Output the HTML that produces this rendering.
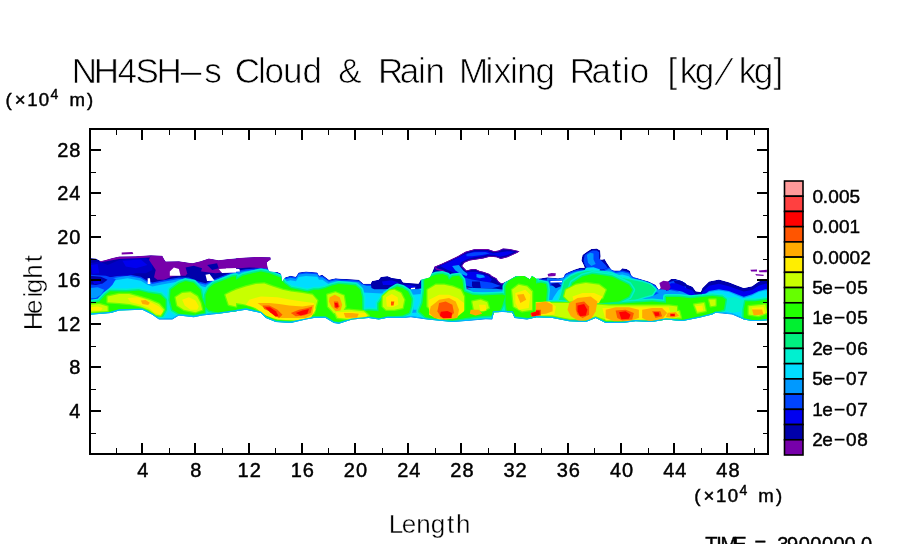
<!DOCTYPE html>
<html><head><meta charset="utf-8"><style>
html,body{margin:0;padding:0;background:#fff;width:904px;height:544px;overflow:hidden}
svg{display:block}
</style></head><body>
<svg width="904" height="544" viewBox="0 0 904 544" shape-rendering="crispEdges"><rect width="904" height="544" fill="#fff"/><defs><clipPath id="env"><polygon points="90.1,257.9 96.0,258.6 100.9,261.2 105.9,259.9 112.5,257.9 119.2,256.6 135.8,256.3 150.7,255.3 162.3,255.8 164.0,259.1 165.6,261.6 178.9,261.2 192.2,263.2 200.5,261.2 208.8,258.6 218.7,260.2 228.7,259.1 236.0,258.3 246.0,257.4 257.6,256.9 270.5,257.3 270.8,259.6 266.7,262.4 267.9,268.4 269.2,271.5 277.5,271.9 281.1,273.8 282.0,282.1 284.9,277.5 290.4,275.7 295.9,276.7 298.6,272.5 306.0,271.5 317.3,272.4 319.0,275.7 322.3,274.8 328.9,279.8 335.6,278.2 341.1,278.7 352.1,279.2 358.8,279.8 362.1,282.5 363.2,283.7 370.9,283.7 372.0,280.9 378.7,279.8 380.9,277.0 387.5,276.2 391.9,278.1 400.8,279.2 403.0,282.5 407.4,283.1 418.5,283.7 420.7,279.8 425.1,278.7 430.0,277.6 434.4,266.7 441.1,263.9 448.8,260.6 457.7,256.2 465.4,251.7 474.2,249.3 487.5,249.0 494.2,251.2 498.6,250.6 503.0,248.4 509.6,249.0 519.6,251.2 517.4,252.8 507.4,257.3 500.8,258.9 496.4,257.3 489.7,256.7 483.1,258.4 476.5,259.5 469.8,260.6 464.3,262.8 462.1,266.1 466.5,270.5 472.0,268.9 475.4,268.9 479.8,271.1 483.1,271.7 489.7,273.9 491.9,276.1 496.4,278.3 498.6,281.6 501.9,283.8 507.4,281.1 516.3,276.1 524.0,276.1 530.0,279.4 532.0,275.7 536.0,278.8 541.5,278.3 547.1,277.2 552.6,277.7 558.1,278.3 563.7,277.2 564.8,273.9 569.2,271.7 574.7,269.4 580.2,267.8 584.7,267.8 583.6,265.0 581.4,260.6 582.5,255.1 586.9,251.7 591.3,249.0 596.8,248.4 600.2,250.6 600.7,256.2 600.2,259.5 602.4,259.5 604.6,258.9 606.8,262.8 609.0,266.1 611.2,269.4 613.4,270.5 620.1,270.5 622.3,268.3 626.7,268.9 630.0,271.1 631.1,275.0 633.3,277.2 636.0,277.7 648.8,281.5 655.5,284.8 658.8,289.8 666.0,283.0 671.0,278.9 675.9,278.9 682.5,281.4 687.5,284.7 692.5,286.7 695.8,291.3 700.7,292.1 702.4,288.0 709.0,281.4 718.9,279.4 728.9,282.2 737.1,285.5 743.8,288.0 752.0,286.3 758.7,281.4 765.3,279.4 767.3,279.4 767.3,320.2 758.7,321.1 752.0,321.1 743.8,319.4 732.2,314.5 715.6,312.8 712.3,314.5 699.1,317.8 682.5,321.1 666.0,319.4 652.1,322.1 635.6,321.3 622.3,323.0 605.7,323.0 595.7,318.0 585.8,322.1 569.2,321.3 552.6,318.0 536.0,317.2 527.0,319.6 514.6,318.0 512.1,312.3 502.1,312.0 493.8,312.3 492.2,319.6 485.6,319.3 472.3,320.5 452.4,322.1 427.5,319.6 410.9,317.2 402.6,318.0 386.0,318.0 378.7,319.6 368.7,318.0 352.1,319.6 338.9,323.8 333.9,323.0 325.6,318.0 314.0,318.0 305.7,319.6 290.8,323.0 275.8,322.1 265.9,318.0 260.9,313.0 246.0,309.7 236.0,311.3 218.7,313.8 202.1,315.5 193.8,317.2 178.9,315.5 172.3,319.6 159.0,319.6 152.4,314.7 142.4,309.7 119.2,310.5 110.9,313.0 90.1,314.7"/></clipPath></defs><g shape-rendering="auto" stroke-linejoin="round"><g clip-path="url(#env)"><polygon points="90.1,257.9 96.0,258.6 100.9,261.2 105.9,259.9 112.5,257.9 119.2,256.6 135.8,256.3 150.7,255.3 162.3,255.8 164.0,259.1 165.6,261.6 178.9,261.2 192.2,263.2 200.5,261.2 208.8,258.6 218.7,260.2 228.7,259.1 236.0,258.3 246.0,257.4 257.6,256.9 270.5,257.3 270.8,259.6 266.7,262.4 267.9,268.4 269.2,271.5 277.5,271.9 281.1,273.8 282.0,282.1 284.9,277.5 290.4,275.7 295.9,276.7 298.6,272.5 306.0,271.5 317.3,272.4 319.0,275.7 322.3,274.8 328.9,279.8 335.6,278.2 341.1,278.7 352.1,279.2 358.8,279.8 362.1,282.5 363.2,283.7 370.9,283.7 372.0,280.9 378.7,279.8 380.9,277.0 387.5,276.2 391.9,278.1 400.8,279.2 403.0,282.5 407.4,283.1 418.5,283.7 420.7,279.8 425.1,278.7 430.0,277.6 434.4,266.7 441.1,263.9 448.8,260.6 457.7,256.2 465.4,251.7 474.2,249.3 487.5,249.0 494.2,251.2 498.6,250.6 503.0,248.4 509.6,249.0 519.6,251.2 517.4,252.8 507.4,257.3 500.8,258.9 496.4,257.3 489.7,256.7 483.1,258.4 476.5,259.5 469.8,260.6 464.3,262.8 462.1,266.1 466.5,270.5 472.0,268.9 475.4,268.9 479.8,271.1 483.1,271.7 489.7,273.9 491.9,276.1 496.4,278.3 498.6,281.6 501.9,283.8 507.4,281.1 516.3,276.1 524.0,276.1 530.0,279.4 532.0,275.7 536.0,278.8 541.5,278.3 547.1,277.2 552.6,277.7 558.1,278.3 563.7,277.2 564.8,273.9 569.2,271.7 574.7,269.4 580.2,267.8 584.7,267.8 583.6,265.0 581.4,260.6 582.5,255.1 586.9,251.7 591.3,249.0 596.8,248.4 600.2,250.6 600.7,256.2 600.2,259.5 602.4,259.5 604.6,258.9 606.8,262.8 609.0,266.1 611.2,269.4 613.4,270.5 620.1,270.5 622.3,268.3 626.7,268.9 630.0,271.1 631.1,275.0 633.3,277.2 636.0,277.7 648.8,281.5 655.5,284.8 658.8,289.8 666.0,283.0 671.0,278.9 675.9,278.9 682.5,281.4 687.5,284.7 692.5,286.7 695.8,291.3 700.7,292.1 702.4,288.0 709.0,281.4 718.9,279.4 728.9,282.2 737.1,285.5 743.8,288.0 752.0,286.3 758.7,281.4 765.3,279.4 767.3,279.4 767.3,320.2 758.7,321.1 752.0,321.1 743.8,319.4 732.2,314.5 715.6,312.8 712.3,314.5 699.1,317.8 682.5,321.1 666.0,319.4 652.1,322.1 635.6,321.3 622.3,323.0 605.7,323.0 595.7,318.0 585.8,322.1 569.2,321.3 552.6,318.0 536.0,317.2 527.0,319.6 514.6,318.0 512.1,312.3 502.1,312.0 493.8,312.3 492.2,319.6 485.6,319.3 472.3,320.5 452.4,322.1 427.5,319.6 410.9,317.2 402.6,318.0 386.0,318.0 378.7,319.6 368.7,318.0 352.1,319.6 338.9,323.8 333.9,323.0 325.6,318.0 314.0,318.0 305.7,319.6 290.8,323.0 275.8,322.1 265.9,318.0 260.9,313.0 246.0,309.7 236.0,311.3 218.7,313.8 202.1,315.5 193.8,317.2 178.9,315.5 172.3,319.6 159.0,319.6 152.4,314.7 142.4,309.7 119.2,310.5 110.9,313.0 90.1,314.7" fill="#0000aa" /><polygon points="90.1,277.5 102.6,278.3 112.5,276.7 127.5,274.2 140.8,276.7 147.4,280.8 152.4,282.5 160.7,280.8 169.0,279.2 178.9,277.5 188.9,277.5 198.8,281.6 205.5,283.3 212.1,280.0 218.7,277.5 227.0,274.2 236.0,270.9 246.0,269.2 255.9,268.4 265.9,267.5 268.4,269.2 270.8,271.7 277.5,272.5 281.1,274.2 282.5,282.0 284.9,278.0 290.4,276.3 295.9,277.2 298.6,273.0 306.0,272.0 317.3,272.8 319.0,275.8 322.3,275.8 328.9,280.3 335.6,278.7 341.1,279.4 352.1,279.9 358.8,280.5 362.1,283.3 363.2,284.4 370.9,284.4 372.0,286.6 380.9,287.7 391.9,287.1 400.8,287.7 407.4,287.7 418.5,287.7 420.7,283.3 425.1,279.9 430.0,278.8 434.1,274.2 440.8,273.3 447.4,274.7 449.0,278.3 452.4,276.3 459.0,275.8 464.0,280.0 465.6,286.6 472.3,288.3 485.6,288.3 498.8,286.6 502.1,282.0 510.4,281.3 515.4,277.5 522.1,276.3 536.0,279.6 546.0,279.6 552.6,279.6 562.5,278.8 565.9,273.8 574.2,270.5 580.8,269.2 585.8,270.0 600.7,270.9 609.0,267.5 615.6,271.4 622.3,270.5 628.9,272.2 632.2,276.3 638.9,278.8 648.8,282.1 655.5,285.5 658.8,290.3 666.0,288.1 671.0,286.5 675.9,287.3 682.5,289.0 687.5,291.4 692.5,293.1 695.8,295.6 700.7,296.4 702.4,293.1 709.0,288.1 718.9,286.5 728.9,288.1 737.1,291.4 743.8,293.9 752.0,291.4 758.7,288.1 765.3,286.5 767.3,286.5 767.3,319.7 758.7,320.6 752.0,320.6 743.8,318.9 732.2,314.0 715.6,312.3 712.3,314.0 699.1,317.3 682.5,320.6 666.0,318.9 652.1,321.6 635.6,320.8 622.3,322.5 605.7,322.5 595.7,317.5 585.8,321.6 569.2,320.8 552.6,317.5 536.0,316.7 527.0,319.1 514.6,317.5 512.1,311.8 502.1,311.5 493.8,311.8 492.2,319.1 485.6,318.8 472.3,320.0 452.4,321.6 427.5,319.1 410.9,316.7 402.6,317.5 386.0,317.5 378.7,319.1 368.7,317.5 352.1,319.1 338.9,323.3 333.9,322.5 325.6,317.5 314.0,317.5 305.7,319.1 290.8,322.5 275.8,321.6 265.9,317.5 260.9,312.5 246.0,309.2 236.0,310.8 218.7,313.3 202.1,315.0 193.8,316.7 178.9,315.0 172.3,319.1 159.0,319.1 152.4,314.2 142.4,309.2 119.2,310.0 110.9,312.5 90.1,314.2" fill="#0044ff" /><polygon points="90.1,279.0 102.6,279.8 112.5,278.2 127.5,275.7 140.8,278.2 147.4,282.3 152.4,284.0 160.7,282.3 169.0,280.7 178.9,279.0 188.9,279.0 198.8,283.1 205.5,284.8 212.1,281.5 218.7,279.0 227.0,275.7 236.0,272.4 246.0,270.7 255.9,269.9 265.9,269.0 268.4,270.7 270.8,273.2 277.5,274.0 281.1,275.7 282.5,283.5 284.9,279.5 290.4,277.8 295.9,278.7 298.6,274.5 306.0,273.5 317.3,274.3 319.0,277.3 322.3,277.3 328.9,281.8 335.6,280.2 341.1,280.9 352.1,281.4 358.8,282.0 362.1,284.8 363.2,285.9 370.9,285.9 372.0,288.1 380.9,289.2 391.9,288.6 400.8,289.2 407.4,289.2 418.5,289.2 420.7,284.8 425.1,281.4 430.0,280.3 434.1,275.7 440.8,274.8 447.4,276.2 449.0,279.8 452.4,277.8 459.0,277.3 464.0,281.5 465.6,288.1 472.3,289.8 485.6,289.8 498.8,288.1 502.1,283.5 510.4,282.8 515.4,279.0 522.1,277.8 536.0,281.1 546.0,281.1 552.6,281.1 562.5,280.3 565.9,275.3 574.2,272.0 580.8,270.7 585.8,271.5 600.7,272.4 609.0,269.0 615.6,272.9 622.3,272.0 628.9,273.7 632.2,277.8 638.9,280.3 648.8,283.6 655.5,287.0 658.8,291.8 666.0,289.6 671.0,288.0 675.9,288.8 682.5,290.5 687.5,292.9 692.5,294.6 695.8,297.1 700.7,297.9 702.4,294.6 709.0,289.6 718.9,288.0 728.9,289.6 737.1,292.9 743.8,295.4 752.0,292.9 758.7,289.6 765.3,288.0 767.3,288.0 767.3,319.4 758.7,320.3 752.0,320.3 743.8,318.6 732.2,313.7 715.6,312.0 712.3,313.7 699.1,317.0 682.5,320.3 666.0,318.6 652.1,321.3 635.6,320.5 622.3,322.2 605.7,322.2 595.7,317.2 585.8,321.3 569.2,320.5 552.6,317.2 536.0,316.4 527.0,318.8 514.6,317.2 512.1,311.5 502.1,311.2 493.8,311.5 492.2,318.8 485.6,318.5 472.3,319.7 452.4,321.3 427.5,318.8 410.9,316.4 402.6,317.2 386.0,317.2 378.7,318.8 368.7,317.2 352.1,318.8 338.9,323.0 333.9,322.2 325.6,317.2 314.0,317.2 305.7,318.8 290.8,322.2 275.8,321.3 265.9,317.2 260.9,312.2 246.0,308.9 236.0,310.5 218.7,313.0 202.1,314.7 193.8,316.4 178.9,314.7 172.3,318.8 159.0,318.8 152.4,313.9 142.4,308.9 119.2,309.7 110.9,312.2 90.1,313.9" fill="#0099ff" /><polygon points="90.1,281.5 102.6,282.3 112.5,280.7 127.5,278.2 140.8,280.7 147.4,284.8 152.4,286.5 160.7,284.8 169.0,283.2 178.9,281.5 188.9,281.5 198.8,285.6 205.5,287.3 212.1,284.0 218.7,281.5 227.0,278.2 236.0,274.9 246.0,273.2 255.9,272.4 265.9,271.5 268.4,273.2 270.8,275.7 277.5,276.5 281.1,278.2 282.5,286.0 284.9,282.0 290.4,280.3 295.9,281.2 298.6,277.0 306.0,276.0 317.3,276.8 319.0,279.8 322.3,279.8 328.9,284.3 335.6,282.7 341.1,283.4 352.1,283.9 358.8,284.5 362.1,287.3 363.2,288.4 370.9,288.4 372.0,290.6 380.9,291.7 391.9,291.1 400.8,291.7 407.4,291.7 418.5,291.7 420.7,287.3 425.1,283.9 430.0,282.8 434.1,278.2 440.8,277.3 447.4,278.7 449.0,282.3 452.4,280.3 459.0,279.8 464.0,284.0 465.6,290.6 472.3,292.3 485.6,292.3 498.8,290.6 502.1,286.0 510.4,285.3 515.4,281.5 522.1,280.3 536.0,283.6 546.0,283.6 552.6,283.6 562.5,282.8 565.9,277.8 574.2,274.5 580.8,273.2 585.8,274.0 600.7,274.9 609.0,271.5 615.6,275.4 622.3,274.5 628.9,276.2 632.2,280.3 638.9,282.8 648.8,286.1 655.5,289.5 658.8,294.3 666.0,292.1 671.0,290.5 675.9,291.3 682.5,293.0 687.5,295.4 692.5,297.1 695.8,299.6 700.7,300.4 702.4,297.1 709.0,292.1 718.9,290.5 728.9,292.1 737.1,295.4 743.8,297.9 752.0,295.4 758.7,292.1 765.3,290.5 767.3,290.5 767.3,319.0 758.7,319.9 752.0,319.9 743.8,318.2 732.2,313.3 715.6,311.6 712.3,313.3 699.1,316.6 682.5,319.9 666.0,318.2 652.1,320.9 635.6,320.1 622.3,321.8 605.7,321.8 595.7,316.8 585.8,320.9 569.2,320.1 552.6,316.8 536.0,316.0 527.0,318.4 514.6,316.8 512.1,311.1 502.1,310.8 493.8,311.1 492.2,318.4 485.6,318.1 472.3,319.3 452.4,320.9 427.5,318.4 410.9,316.0 402.6,316.8 386.0,316.8 378.7,318.4 368.7,316.8 352.1,318.4 338.9,322.6 333.9,321.8 325.6,316.8 314.0,316.8 305.7,318.4 290.8,321.8 275.8,320.9 265.9,316.8 260.9,311.8 246.0,308.5 236.0,310.1 218.7,312.6 202.1,314.3 193.8,316.0 178.9,314.3 172.3,318.4 159.0,318.4 152.4,313.5 142.4,308.5 119.2,309.3 110.9,311.8 90.1,313.5" fill="#00ddff" /><polygon points="90.1,263.2 99.3,261.6 107.6,264.9 119.2,259.9 132.5,258.3 145.7,258.3 152.4,261.6 152.4,269.9 145.7,273.2 135.8,273.2 127.5,275.7 115.9,275.7 105.9,277.3 96.0,278.2 90.1,276.5" fill="#0000c8" /><polygon points="91.0,264.9 97.6,264.1 99.3,273.2 92.6,274.0" fill="#0000f0" /><polygon points="122.5,260.7 140.8,259.6 147.4,264.9 135.8,268.2 125.8,266.5" fill="#0000f0" /><polygon points="89.3,274.8 105.9,275.7 115.9,279.0 112.5,284.8 107.6,289.8 102.6,294.8 99.3,300.6 89.3,302.2" fill="#0044ff" /><polygon points="89.3,275.7 100.9,276.8 107.6,279.8 102.6,283.5 96.0,285.1 89.3,284.5" fill="#0000aa" /><polygon points="89.3,288.1 97.6,287.3 104.3,289.8 100.9,294.8 96.0,298.1 89.3,298.4" fill="#0099ff" /><polygon points="92.6,281.5 99.3,281.1 100.9,283.5 94.3,284.1" fill="#0000f0" /><polygon points="150.7,255.3 162.3,255.8 164.0,259.1 165.6,261.6 178.9,261.2 192.2,263.2 200.5,261.2 208.8,258.6 218.7,260.2 228.7,259.1 236.0,259.1 236.0,271.5 230.4,272.4 222.1,272.4 215.4,273.2 208.8,272.4 202.1,271.5 195.5,269.9 188.9,271.5 185.6,275.7 178.9,275.7 172.3,276.5 164.0,279.8 157.3,279.8 154.0,277.3 155.7,269.9 152.4,264.9 149.0,259.9" fill="#7700aa" /><polygon points="99.3,260.7 119.2,256.6 135.8,256.3 150.7,255.3 149.9,257.6 135.8,258.3 119.2,258.9 100.9,262.2" fill="#7700aa" /><polygon points="185.6,267.4 193.8,265.7 202.1,268.2 200.5,272.4 192.2,272.4 187.2,273.2" fill="#0000aa" /><polygon points="207.1,264.9 217.1,263.2 218.7,268.2 212.1,269.9" fill="#0000aa" /><polygon points="236.0,257.9 246.0,257.4 257.6,256.9 270.5,257.3 270.8,259.6 266.7,262.4 267.9,268.4 259.2,267.9 249.3,267.4 242.6,267.9 236.0,268.5" fill="#7700aa" /><polygon points="362.1,284.2 372.0,288.1 383.1,289.2 384.2,298.0 383.1,311.0 362.1,311.0 361.0,289.2" fill="#0099ff" /><polygon points="363.2,292.5 382.0,293.6 382.5,311.0 363.2,311.0" fill="#00ddff" /><polygon points="370.9,282.5 378.7,279.8 380.9,277.0 387.5,276.2 391.9,278.1 400.8,279.2 403.0,282.5 407.4,283.1 418.5,283.7 421.8,283.1 421.8,288.6 407.4,289.2 396.4,288.1 385.3,289.2 374.2,289.2 371.5,288.1" fill="#0000aa" /><polygon points="382.0,281.4 391.9,280.3 398.6,282.5 391.9,285.0 383.1,285.0" fill="#0000f0" /><polygon points="400.8,285.6 409.6,285.0 417.4,286.8 407.4,288.3" fill="#0000f0" /><polygon points="410.8,287.9 415.2,287.6 415.0,289.0 411.0,289.2" fill="#fff" /><polygon points="434.4,266.7 441.1,263.9 448.8,260.6 457.7,256.2 465.4,251.7 474.2,249.3 487.5,249.0 494.2,251.2 498.6,250.6 503.0,248.4 509.6,249.0 519.6,251.2 517.4,252.8 507.4,257.3 500.8,258.9 496.4,257.3 489.7,256.7 483.1,258.4 476.5,259.5 469.8,260.6 464.3,262.8 462.1,266.1 466.5,270.5 472.0,268.9 475.4,268.9 479.8,271.1 483.1,271.7 489.7,273.9 491.9,276.1 496.4,278.3 498.6,281.6 501.9,283.8 507.4,281.1 516.3,276.1 524.0,276.1 530.0,279.4 530.0,288.2 496.4,290.5 463.2,288.2 452.1,280.5 448.8,275.0 443.3,271.1 436.6,268.9" fill="#0000aa" stroke="#7700aa" stroke-width="1.6"/><polygon points="440.0,266.1 448.8,262.3 457.7,257.8 465.4,254.0 474.2,251.5 487.5,251.2 493.1,253.4 500.8,252.3 507.4,251.2 514.1,251.7 507.4,255.1 499.7,256.7 494.2,255.1 487.5,254.5 482.0,256.2 474.2,257.3 467.6,258.9 461.0,262.3 458.8,267.2 463.2,272.8 469.8,271.7 476.5,271.7 482.0,273.9 488.6,276.1 491.9,279.4 489.7,282.7 480.9,280.5 472.0,279.4 463.2,277.2 454.3,272.8 446.6,269.4" fill="#0000f0" /><polygon points="466.5,254.0 474.2,252.3 485.3,252.0 489.7,253.4 482.0,255.1 472.0,256.2 466.5,256.2" fill="#0044ff" /><polygon points="452.1,266.1 458.8,265.0 463.2,270.5 467.6,273.9 466.5,276.1 461.0,273.9 455.4,270.5" fill="#0099ff" /><polygon points="476.5,273.9 483.1,275.0 485.3,277.2 479.8,278.3 476.5,277.2" fill="#0099ff" /><polygon points="463.2,277.2 472.0,279.4 480.9,281.1 491.9,282.7 500.8,286.0 491.9,288.2 476.5,288.2 466.5,286.0" fill="#0044ff" /><polygon points="472.0,281.6 479.8,281.6 480.9,288.2 474.2,289.4 472.0,286.0" fill="#0000aa" /><polygon points="466.5,287.7 496.4,288.8 507.4,290.5 498.6,292.7 474.2,291.6" fill="#0099ff" /><polygon points="447.7,273.9 452.1,276.1 452.7,280.5 449.4,280.5" fill="#fff" /><polygon points="409.2,290.6 419.2,289.8 424.2,290.6 422.5,303.0 420.0,312.2 410.9,313.0 412.5,299.7" fill="#0099ff" /><polygon points="412.5,294.8 420.8,293.9 421.7,303.0 419.2,309.7 413.4,309.7" fill="#00ddff" /><polygon points="583.6,260.6 584.7,255.1 588.0,252.8 592.4,250.6 596.8,250.4 599.1,252.3 599.1,258.4 602.4,261.7 605.7,265.0 607.9,268.3 602.4,269.4 593.5,269.4 586.9,267.8 584.7,265.0" fill="#0044ff" /><polygon points="586.9,255.1 590.2,252.8 593.5,253.4 593.5,259.5 595.7,263.9 591.3,266.1 588.0,262.8" fill="#0099ff" /><polygon points="585.8,267.8 593.5,267.2 600.2,269.4 597.9,272.8 589.1,272.8 584.7,270.5" fill="#00ddff" /><polygon points="547.1,278.3 558.1,278.8 563.7,277.7 564.8,281.6 563.7,286.0 558.1,290.5 553.7,297.1 550.4,303.7 547.1,303.7 547.1,297.1 548.2,288.2" fill="#0099ff" /><polygon points="548.2,279.4 558.1,279.4 562.5,280.5 561.4,283.8 555.9,286.0 550.4,286.0" fill="#0044ff" /><polygon points="550.4,283.8 558.1,282.7 561.4,286.0 555.9,288.2" fill="#0000aa" /><polygon points="536.0,279.4 541.5,280.0 541.0,283.8 536.0,283.8" fill="#fff" /><polygon points="550.4,281.1 562.0,280.7 562.0,282.2 550.4,282.5" fill="#fff" /><polygon points="628.9,289.8 638.9,288.1 650.5,288.1 658.8,289.8 668.7,288.1 677.0,283.1 686.0,281.5 686.0,303.0 668.7,303.0 652.1,301.4 635.6,302.2 628.9,299.7" fill="#0099ff" /><polygon points="635.6,290.6 648.8,289.8 658.8,293.1 652.1,296.4 642.2,294.8" fill="#0044ff" /><polygon points="668.7,282.3 677.0,279.8 686.0,279.0 686.0,289.8 677.0,291.4 668.7,289.8" fill="#0044ff" /><polygon points="673.7,280.7 686.0,279.5 686.0,286.5 677.0,287.3" fill="#0000aa" /><polygon points="660.4,282.3 667.1,281.5 668.7,287.3 662.1,288.1" fill="#7700aa" /><polygon points="666.0,287.2 671.0,283.3 675.9,283.3 682.5,285.7 687.5,288.8 692.5,290.6 695.8,294.9 700.7,295.8 702.4,292.0 709.0,285.7 718.9,283.7 728.9,286.3 737.1,289.3 743.8,291.6 752.0,290.0 758.7,285.7 765.3,283.7 768.6,283.7 768.6,289.6 765.3,289.3 758.7,291.0 752.0,294.3 743.8,296.8 737.1,294.3 728.9,291.0 718.9,289.3 709.0,291.0 702.4,295.9 700.7,299.2 695.8,298.4 692.5,295.9 687.5,294.3 682.5,291.8 675.9,290.1 671.0,289.3 666.0,291.0" fill="#0000f0" /><polygon points="723.9,297.9 735.5,297.1 745.4,301.2 743.8,311.1 732.2,312.8 723.9,309.5" fill="#00f0d0" /><polygon points="169.8,271.5 173.9,267.4 178.9,269.0 180.6,275.7 169.8,275.7" fill="#fff" /><polygon points="147.7,278.2 150.0,278.2 150.4,284.0 147.7,284.0" fill="#fff" /><polygon points="205.5,274.8 209.6,274.0 214.6,280.7 207.1,281.1" fill="#fff" /><polygon points="218.7,269.0 236.0,267.9 236.0,272.4 222.1,272.9" fill="#fff" /><polygon points="226.0,268.5 239.3,268.9 240.0,271.5 226.0,272.2" fill="#fff" /><polygon points="564.2,281.5 570.8,276.2 577.5,273.2 585.8,271.2 592.4,270.7 600.7,271.9 610.7,273.2 622.3,278.0 631.9,280.0 642.2,282.0 650.5,284.8 655.5,289.8 652.1,294.8 645.5,296.4 635.6,299.7 628.9,303.0 622.3,306.4 609.0,309.7 585.8,313.0 569.2,309.7 557.6,303.0 560.9,294.8" fill="#00f0d0" stroke="#00f0d0" stroke-width="3"/><polygon points="564.2,281.5 570.8,276.2 577.5,273.2 585.8,271.2 592.4,270.7 600.7,271.9 610.7,273.2 622.3,278.0 631.9,280.0 642.2,282.0 650.5,284.8 655.5,289.8 652.1,294.8 645.5,296.4 635.6,299.7 628.9,303.0 622.3,306.4 609.0,309.7 585.8,313.0 569.2,309.7 557.6,303.0 560.9,294.8" fill="#00f080" /><polygon points="90.1,302.7 99.3,301.4 105.7,294.6 110.1,291.3 126.5,291.4 139.1,290.6 149.0,293.1 160.7,294.8 165.6,299.7 165.6,309.7 162.3,315.5 155.7,315.5 149.0,310.5 142.4,308.4 119.2,309.4 110.9,311.7 90.1,313.0" fill="#00f0d0" stroke="#00f0d0" stroke-width="6"/><polygon points="170.6,289.8 178.9,283.5 185.6,281.1 193.8,282.8 200.5,289.8 202.1,298.1 205.5,306.4 204.6,313.0 193.8,314.7 178.9,313.8 172.3,309.7 169.8,299.7" fill="#00f0d0" stroke="#00f0d0" stroke-width="6"/><polygon points="205.5,294.8 208.8,288.1 213.8,284.0 222.1,280.7 232.0,276.8 236.0,276.2 236.0,311.7 218.7,312.7 208.8,310.5 205.5,306.4" fill="#00f0d0" stroke="#00f0d0" stroke-width="6"/><polygon points="236.0,279.8 242.6,275.7 252.6,273.2 260.9,271.5 269.2,273.2 275.8,275.7 280.8,277.8 284.1,283.1 290.8,288.1 299.0,289.8 307.3,291.4 314.0,289.8 319.0,289.8 325.6,288.1 332.2,285.6 338.9,284.0 348.8,284.8 355.5,285.6 360.4,289.8 362.1,297.2 362.4,311.3 368.7,310.5 378.7,311.3 387.0,311.3 387.0,318.0 378.7,318.0 368.7,316.3 352.1,318.0 338.9,322.1 333.9,321.3 325.6,316.3 314.0,316.3 305.7,318.0 290.8,321.3 275.8,320.5 265.9,316.3 260.9,311.3 246.0,308.0 236.0,309.7" fill="#00f0d0" stroke="#00f0d0" stroke-width="6"/><polygon points="378.5,303.5 384.0,295.9 391.5,289.8 397.0,286.5 402.6,288.0 408.1,291.6 411.7,298.9 410.9,306.2 409.1,312.7 402.6,315.5 392.6,316.3 378.5,316.3" fill="#00f0d0" stroke="#00f0d0" stroke-width="6"/><polygon points="424.2,279.8 429.1,277.3 435.8,274.8 442.4,274.0 447.4,275.7 449.0,279.8 452.4,276.5 459.0,275.7 462.3,279.8 464.0,291.4 472.3,294.8 482.2,295.6 492.2,295.1 502.1,294.4 505.5,295.6 502.1,306.4 498.8,313.0 492.2,315.5 478.9,316.3 465.6,318.0 452.4,320.5 435.8,318.8 425.8,317.2 419.2,311.3 422.5,303.0 424.2,289.8" fill="#00f0d0" stroke="#00f0d0" stroke-width="6"/><polygon points="505.5,286.5 508.8,280.7 515.4,277.3 522.1,275.7 530.4,276.5 536.0,277.3 536.0,319.6 528.7,318.0 515.4,316.3 507.1,313.0 505.5,303.0" fill="#00f0d0" stroke="#00f0d0" stroke-width="6"/><polygon points="536.0,283.5 541.0,282.8 546.0,284.0 547.0,289.8 546.0,301.4 542.6,306.4 536.0,306.4" fill="#00f0d0" stroke="#00f0d0" stroke-width="6"/><polygon points="572.5,283.1 582.5,276.5 592.4,274.0 602.4,275.2 612.3,276.8 622.3,281.5 628.9,284.8 632.2,289.8 628.9,296.4 619.0,301.4 602.4,303.0 585.8,303.0 572.5,299.7 569.2,293.1" fill="#00f0d0" stroke="#00f0d0" stroke-width="6"/><polygon points="536.0,303.0 560.9,303.0 585.8,306.4 610.7,304.7 628.9,303.0 652.1,301.4 668.7,303.0 686.0,303.0 686.0,317.2 668.7,320.5 652.1,321.3 635.6,320.5 622.3,322.1 605.7,322.1 595.7,317.2 585.8,321.3 569.2,320.5 552.6,317.2 536.0,316.3" fill="#00f0d0" stroke="#00f0d0" stroke-width="6"/><polygon points="666.0,297.1 679.2,297.1 690.8,298.2 702.4,297.1 712.3,295.9 722.3,297.1 725.6,299.6 723.9,309.5 715.6,312.0 712.3,313.6 699.1,316.9 682.5,320.2 666.0,318.6" fill="#00f0d0" stroke="#00f0d0" stroke-width="6"/><polygon points="745.4,301.2 755.3,301.2 767.3,299.6 767.3,319.4 758.7,320.2 752.0,320.2 743.8,318.6 743.8,309.5" fill="#00f0d0" stroke="#00f0d0" stroke-width="6"/><polygon points="90.1,302.7 99.3,301.4 105.7,294.6 110.1,291.3 126.5,291.4 139.1,290.6 149.0,293.1 160.7,294.8 165.6,299.7 165.6,309.7 162.3,315.5 155.7,315.5 149.0,310.5 142.4,308.4 119.2,309.4 110.9,311.7 90.1,313.0" fill="#00f080" stroke="#00f080" stroke-width="3"/><polygon points="170.6,289.8 178.9,283.5 185.6,281.1 193.8,282.8 200.5,289.8 202.1,298.1 205.5,306.4 204.6,313.0 193.8,314.7 178.9,313.8 172.3,309.7 169.8,299.7" fill="#00f080" stroke="#00f080" stroke-width="3"/><polygon points="205.5,294.8 208.8,288.1 213.8,284.0 222.1,280.7 232.0,276.8 236.0,276.2 236.0,311.7 218.7,312.7 208.8,310.5 205.5,306.4" fill="#00f080" stroke="#00f080" stroke-width="3"/><polygon points="236.0,279.8 242.6,275.7 252.6,273.2 260.9,271.5 269.2,273.2 275.8,275.7 280.8,277.8 284.1,283.1 290.8,288.1 299.0,289.8 307.3,291.4 314.0,289.8 319.0,289.8 325.6,288.1 332.2,285.6 338.9,284.0 348.8,284.8 355.5,285.6 360.4,289.8 362.1,297.2 362.4,311.3 368.7,310.5 378.7,311.3 387.0,311.3 387.0,318.0 378.7,318.0 368.7,316.3 352.1,318.0 338.9,322.1 333.9,321.3 325.6,316.3 314.0,316.3 305.7,318.0 290.8,321.3 275.8,320.5 265.9,316.3 260.9,311.3 246.0,308.0 236.0,309.7" fill="#00f080" stroke="#00f080" stroke-width="3"/><polygon points="378.5,303.5 384.0,295.9 391.5,289.8 397.0,286.5 402.6,288.0 408.1,291.6 411.7,298.9 410.9,306.2 409.1,312.7 402.6,315.5 392.6,316.3 378.5,316.3" fill="#00f080" stroke="#00f080" stroke-width="3"/><polygon points="424.2,279.8 429.1,277.3 435.8,274.8 442.4,274.0 447.4,275.7 449.0,279.8 452.4,276.5 459.0,275.7 462.3,279.8 464.0,291.4 472.3,294.8 482.2,295.6 492.2,295.1 502.1,294.4 505.5,295.6 502.1,306.4 498.8,313.0 492.2,315.5 478.9,316.3 465.6,318.0 452.4,320.5 435.8,318.8 425.8,317.2 419.2,311.3 422.5,303.0 424.2,289.8" fill="#00f080" stroke="#00f080" stroke-width="3"/><polygon points="505.5,286.5 508.8,280.7 515.4,277.3 522.1,275.7 530.4,276.5 536.0,277.3 536.0,319.6 528.7,318.0 515.4,316.3 507.1,313.0 505.5,303.0" fill="#00f080" stroke="#00f080" stroke-width="3"/><polygon points="536.0,283.5 541.0,282.8 546.0,284.0 547.0,289.8 546.0,301.4 542.6,306.4 536.0,306.4" fill="#00f080" stroke="#00f080" stroke-width="3"/><polygon points="572.5,283.1 582.5,276.5 592.4,274.0 602.4,275.2 612.3,276.8 622.3,281.5 628.9,284.8 632.2,289.8 628.9,296.4 619.0,301.4 602.4,303.0 585.8,303.0 572.5,299.7 569.2,293.1" fill="#00f080" stroke="#00f080" stroke-width="3"/><polygon points="536.0,303.0 560.9,303.0 585.8,306.4 610.7,304.7 628.9,303.0 652.1,301.4 668.7,303.0 686.0,303.0 686.0,317.2 668.7,320.5 652.1,321.3 635.6,320.5 622.3,322.1 605.7,322.1 595.7,317.2 585.8,321.3 569.2,320.5 552.6,317.2 536.0,316.3" fill="#00f080" stroke="#00f080" stroke-width="3"/><polygon points="666.0,297.1 679.2,297.1 690.8,298.2 702.4,297.1 712.3,295.9 722.3,297.1 725.6,299.6 723.9,309.5 715.6,312.0 712.3,313.6 699.1,316.9 682.5,320.2 666.0,318.6" fill="#00f080" stroke="#00f080" stroke-width="3"/><polygon points="745.4,301.2 755.3,301.2 767.3,299.6 767.3,319.4 758.7,320.2 752.0,320.2 743.8,318.6 743.8,309.5" fill="#00f080" stroke="#00f080" stroke-width="3"/><polygon points="90.1,302.7 99.3,301.4 105.7,294.6 110.1,291.3 126.5,291.4 139.1,290.6 149.0,293.1 160.7,294.8 165.6,299.7 165.6,309.7 162.3,315.5 155.7,315.5 149.0,310.5 142.4,308.4 119.2,309.4 110.9,311.7 90.1,313.0" fill="#22ff00" /><polygon points="170.6,289.8 178.9,283.5 185.6,281.1 193.8,282.8 200.5,289.8 202.1,298.1 205.5,306.4 204.6,313.0 193.8,314.7 178.9,313.8 172.3,309.7 169.8,299.7" fill="#22ff00" /><polygon points="205.5,294.8 208.8,288.1 213.8,284.0 222.1,280.7 232.0,276.8 236.0,276.2 236.0,311.7 218.7,312.7 208.8,310.5 205.5,306.4" fill="#22ff00" /><polygon points="236.0,279.8 242.6,275.7 252.6,273.2 260.9,271.5 269.2,273.2 275.8,275.7 280.8,277.8 284.1,283.1 290.8,288.1 299.0,289.8 307.3,291.4 314.0,289.8 319.0,289.8 325.6,288.1 332.2,285.6 338.9,284.0 348.8,284.8 355.5,285.6 360.4,289.8 362.1,297.2 362.4,311.3 368.7,310.5 378.7,311.3 387.0,311.3 387.0,318.0 378.7,318.0 368.7,316.3 352.1,318.0 338.9,322.1 333.9,321.3 325.6,316.3 314.0,316.3 305.7,318.0 290.8,321.3 275.8,320.5 265.9,316.3 260.9,311.3 246.0,308.0 236.0,309.7" fill="#22ff00" /><polygon points="378.5,303.5 384.0,295.9 391.5,289.8 397.0,286.5 402.6,288.0 408.1,291.6 411.7,298.9 410.9,306.2 409.1,312.7 402.6,315.5 392.6,316.3 378.5,316.3" fill="#22ff00" /><polygon points="424.2,279.8 429.1,277.3 435.8,274.8 442.4,274.0 447.4,275.7 449.0,279.8 452.4,276.5 459.0,275.7 462.3,279.8 464.0,291.4 472.3,294.8 482.2,295.6 492.2,295.1 502.1,294.4 505.5,295.6 502.1,306.4 498.8,313.0 492.2,315.5 478.9,316.3 465.6,318.0 452.4,320.5 435.8,318.8 425.8,317.2 419.2,311.3 422.5,303.0 424.2,289.8" fill="#22ff00" /><polygon points="505.5,286.5 508.8,280.7 515.4,277.3 522.1,275.7 530.4,276.5 536.0,277.3 536.0,319.6 528.7,318.0 515.4,316.3 507.1,313.0 505.5,303.0" fill="#22ff00" /><polygon points="536.0,283.5 541.0,282.8 546.0,284.0 547.0,289.8 546.0,301.4 542.6,306.4 536.0,306.4" fill="#22ff00" /><polygon points="572.5,283.1 582.5,276.5 592.4,274.0 602.4,275.2 612.3,276.8 622.3,281.5 628.9,284.8 632.2,289.8 628.9,296.4 619.0,301.4 602.4,303.0 585.8,303.0 572.5,299.7 569.2,293.1" fill="#22ff00" /><polygon points="536.0,303.0 560.9,303.0 585.8,306.4 610.7,304.7 628.9,303.0 652.1,301.4 668.7,303.0 686.0,303.0 686.0,317.2 668.7,320.5 652.1,321.3 635.6,320.5 622.3,322.1 605.7,322.1 595.7,317.2 585.8,321.3 569.2,320.5 552.6,317.2 536.0,316.3" fill="#22ff00" /><polygon points="666.0,297.1 679.2,297.1 690.8,298.2 702.4,297.1 712.3,295.9 722.3,297.1 725.6,299.6 723.9,309.5 715.6,312.0 712.3,313.6 699.1,316.9 682.5,320.2 666.0,318.6" fill="#22ff00" /><polygon points="745.4,301.2 755.3,301.2 767.3,299.6 767.3,319.4 758.7,320.2 752.0,320.2 743.8,318.6 743.8,309.5" fill="#22ff00" /><polygon points="107.6,296.4 119.2,293.9 129.1,293.9 140.8,297.2 149.0,299.7 159.0,303.9 164.0,309.7 160.7,315.5 155.7,314.7 149.0,309.7 140.8,306.4 129.1,303.9 119.2,303.0 107.6,302.2" fill="#66ff00" stroke="#66ff00" stroke-width="2.5"/><polygon points="175.6,297.2 182.2,293.1 190.5,292.3 197.2,296.4 200.5,303.0 202.1,309.7 195.5,312.2 183.9,309.7 177.3,305.5" fill="#66ff00" stroke="#66ff00" stroke-width="2.5"/><polygon points="91.0,304.7 99.3,303.9 107.6,306.4 107.6,311.0 91.0,311.7" fill="#66ff00" stroke="#66ff00" stroke-width="2.5"/><polygon points="225.4,294.8 232.0,291.4 236.0,289.8 236.0,306.4 228.7,304.7" fill="#66ff00" stroke="#66ff00" stroke-width="2.5"/><polygon points="236.0,289.8 246.0,286.5 255.9,284.0 264.2,283.5 272.5,286.5 282.5,289.8 290.8,291.4 302.4,293.1 312.3,294.8 317.3,300.6 314.0,313.0 302.4,318.0 285.8,319.6 274.2,318.0 264.2,313.0 252.6,306.4 242.6,303.9 236.0,303.0" fill="#66ff00" stroke="#66ff00" stroke-width="2.5"/><polygon points="327.3,294.8 335.6,292.3 343.8,295.6 345.5,306.4 342.2,313.0 333.9,313.0 328.1,306.4" fill="#66ff00" stroke="#66ff00" stroke-width="2.5"/><polygon points="333.9,310.5 348.8,309.7 363.8,311.3 368.7,315.5 362.1,318.3 348.8,319.3 337.2,318.0" fill="#66ff00" stroke="#66ff00" stroke-width="2.5"/><polygon points="382.7,296.4 389.3,290.6 394.3,289.8 400.9,293.1 404.3,299.7 402.6,308.0 394.3,309.7 386.0,309.7 382.7,306.4" fill="#66ff00" stroke="#66ff00" stroke-width="2.5"/><polygon points="427.5,289.8 435.8,284.8 444.1,284.8 452.4,286.5 460.7,289.8 464.0,296.4 464.0,309.7 452.4,314.7 435.8,314.7 427.5,306.4" fill="#66ff00" stroke="#66ff00" stroke-width="2.5"/><polygon points="472.3,301.4 480.6,299.7 487.2,302.2 488.9,308.0 482.2,311.3 473.9,309.7" fill="#66ff00" stroke="#66ff00" stroke-width="2.5"/><polygon points="512.1,289.8 518.7,284.8 527.0,286.5 532.0,291.4 532.0,309.7 522.1,311.3 513.8,306.4" fill="#66ff00" stroke="#66ff00" stroke-width="2.5"/><polygon points="565.9,289.8 575.8,284.8 585.8,283.1 599.0,284.8 605.7,289.8 602.4,298.1 585.8,301.4 569.2,301.4 564.2,296.4" fill="#66ff00" stroke="#66ff00" stroke-width="2.5"/><polygon points="536.0,303.0 552.6,303.0 569.2,303.0 599.0,304.7 609.0,305.5 638.9,305.5 668.7,305.5 677.0,306.4 677.0,318.0 652.1,319.6 635.6,319.6 605.7,319.6 595.7,316.3 585.8,319.6 569.2,318.8 552.6,315.5 536.0,315.5" fill="#66ff00" stroke="#66ff00" stroke-width="2.5"/><polygon points="694.1,304.5 704.1,302.9 705.7,311.1 697.4,312.8" fill="#66ff00" stroke="#66ff00" stroke-width="2.5"/><polygon points="709.0,299.6 715.6,299.6 715.6,305.4 710.7,306.2" fill="#66ff00" stroke="#66ff00" stroke-width="2.5"/><polygon points="748.7,306.2 765.3,304.5 767.3,312.8 758.7,316.1 748.7,314.5" fill="#66ff00" stroke="#66ff00" stroke-width="2.5"/><polygon points="666.0,311.1 679.2,311.1 680.9,317.8 666.0,317.8" fill="#66ff00" stroke="#66ff00" stroke-width="2.5"/><polygon points="107.6,296.4 119.2,293.9 129.1,293.9 140.8,297.2 149.0,299.7 159.0,303.9 164.0,309.7 160.7,315.5 155.7,314.7 149.0,309.7 140.8,306.4 129.1,303.9 119.2,303.0 107.6,302.2" fill="#c8ff00" /><polygon points="175.6,297.2 182.2,293.1 190.5,292.3 197.2,296.4 200.5,303.0 202.1,309.7 195.5,312.2 183.9,309.7 177.3,305.5" fill="#c8ff00" /><polygon points="91.0,304.7 99.3,303.9 107.6,306.4 107.6,311.0 91.0,311.7" fill="#c8ff00" /><polygon points="225.4,294.8 232.0,291.4 236.0,289.8 236.0,306.4 228.7,304.7" fill="#c8ff00" /><polygon points="236.0,289.8 246.0,286.5 255.9,284.0 264.2,283.5 272.5,286.5 282.5,289.8 290.8,291.4 302.4,293.1 312.3,294.8 317.3,300.6 314.0,313.0 302.4,318.0 285.8,319.6 274.2,318.0 264.2,313.0 252.6,306.4 242.6,303.9 236.0,303.0" fill="#c8ff00" /><polygon points="327.3,294.8 335.6,292.3 343.8,295.6 345.5,306.4 342.2,313.0 333.9,313.0 328.1,306.4" fill="#c8ff00" /><polygon points="333.9,310.5 348.8,309.7 363.8,311.3 368.7,315.5 362.1,318.3 348.8,319.3 337.2,318.0" fill="#c8ff00" /><polygon points="382.7,296.4 389.3,290.6 394.3,289.8 400.9,293.1 404.3,299.7 402.6,308.0 394.3,309.7 386.0,309.7 382.7,306.4" fill="#c8ff00" /><polygon points="427.5,289.8 435.8,284.8 444.1,284.8 452.4,286.5 460.7,289.8 464.0,296.4 464.0,309.7 452.4,314.7 435.8,314.7 427.5,306.4" fill="#c8ff00" /><polygon points="472.3,301.4 480.6,299.7 487.2,302.2 488.9,308.0 482.2,311.3 473.9,309.7" fill="#c8ff00" /><polygon points="512.1,289.8 518.7,284.8 527.0,286.5 532.0,291.4 532.0,309.7 522.1,311.3 513.8,306.4" fill="#c8ff00" /><polygon points="565.9,289.8 575.8,284.8 585.8,283.1 599.0,284.8 605.7,289.8 602.4,298.1 585.8,301.4 569.2,301.4 564.2,296.4" fill="#c8ff00" /><polygon points="536.0,303.0 552.6,303.0 569.2,303.0 599.0,304.7 609.0,305.5 638.9,305.5 668.7,305.5 677.0,306.4 677.0,318.0 652.1,319.6 635.6,319.6 605.7,319.6 595.7,316.3 585.8,319.6 569.2,318.8 552.6,315.5 536.0,315.5" fill="#c8ff00" /><polygon points="694.1,304.5 704.1,302.9 705.7,311.1 697.4,312.8" fill="#c8ff00" /><polygon points="709.0,299.6 715.6,299.6 715.6,305.4 710.7,306.2" fill="#c8ff00" /><polygon points="748.7,306.2 765.3,304.5 767.3,312.8 758.7,316.1 748.7,314.5" fill="#c8ff00" /><polygon points="666.0,311.1 679.2,311.1 680.9,317.8 666.0,317.8" fill="#c8ff00" /><polygon points="127.5,298.1 137.4,297.2 145.7,299.7 152.4,303.0 159.0,306.4 163.2,311.3 160.7,314.7 154.9,313.0 149.0,308.0 140.8,304.7 130.8,302.2" fill="#ffee00" /><polygon points="182.2,299.7 188.9,297.2 195.5,300.6 198.8,306.4 197.2,309.7 190.5,309.7 184.7,305.5" fill="#ffee00" /><polygon points="91.0,307.2 97.6,306.4 102.6,308.0 100.9,310.5 91.0,310.5" fill="#ffee00" /><polygon points="249.3,299.7 260.9,296.4 277.5,297.2 290.8,299.7 302.4,301.4 314.0,303.0 315.6,309.7 310.7,318.0 294.1,320.5 277.5,319.6 265.9,315.5 255.9,308.0 246.0,304.7" fill="#ffee00" /><polygon points="335.6,312.2 352.1,311.7 365.4,313.0 367.1,316.3 352.1,318.3 338.9,317.7" fill="#ffee00" /><polygon points="386.0,297.2 391.8,293.9 397.6,297.2 398.4,304.7 392.6,307.2 386.8,306.4" fill="#ffee00" /><polygon points="429.1,299.7 439.1,294.8 449.0,294.8 457.3,298.1 464.0,303.0 464.0,311.3 455.7,318.0 439.1,319.6 429.1,314.7" fill="#ffee00" /><polygon points="478.9,304.7 485.6,304.7 486.4,310.5 480.6,311.3" fill="#ffee00" /><polygon points="515.4,293.1 525.4,289.8 530.4,294.8 528.7,308.0 518.7,309.7 515.4,303.0" fill="#ffee00" /><polygon points="572.5,296.4 582.5,293.1 594.1,293.1 602.4,296.4 599.0,303.0 585.8,304.7 574.2,303.0" fill="#ffee00" /><polygon points="536.0,302.2 549.3,301.4 555.9,306.4 554.3,314.7 536.0,315.5" fill="#ffee00" /><polygon points="602.4,308.0 642.2,307.2 668.7,307.2 672.1,318.0 642.2,319.6 605.7,320.5" fill="#ffee00" /><polygon points="695.8,306.2 702.4,305.4 703.2,310.3 697.4,311.1" fill="#ffee00" /><polygon points="752.0,307.8 763.6,307.0 765.3,313.6 753.7,314.5" fill="#ffee00" /><polygon points="666.0,312.0 677.6,312.0 679.2,316.9 666.0,317.4" fill="#ffee00" /><polygon points="140.8,300.6 145.7,300.1 149.9,302.7 148.2,305.0 142.4,303.9" fill="#ffaa00" /><polygon points="257.6,303.0 269.2,303.0 279.1,303.9 289.1,305.5 302.4,306.4 314.0,304.7 312.3,314.7 305.7,318.0 290.8,318.0 280.8,318.0 272.5,313.0 264.2,308.0" fill="#ffaa00" /><polygon points="329.7,297.2 334.7,294.8 339.7,297.2 342.2,304.7 340.5,310.5 335.6,311.3 331.4,306.4 328.9,301.4" fill="#ffaa00" /><polygon points="343.8,313.0 352.1,313.0 358.8,313.8 357.1,317.7 345.5,317.7" fill="#ffaa00" /><polygon points="430.8,306.4 439.1,299.7 449.0,298.1 455.7,301.4 459.0,309.7 457.3,318.0 445.7,319.6 434.1,318.0 429.1,313.0" fill="#ffaa00" /><polygon points="470.6,309.7 478.9,309.7 482.2,313.8 475.6,315.5 469.8,313.8" fill="#ffaa00" /><polygon points="517.1,294.8 523.7,293.9 526.2,299.7 520.4,303.0" fill="#ffaa00" /><polygon points="569.2,303.0 577.5,298.1 590.8,296.4 597.4,301.4 595.7,311.3 590.8,319.6 579.1,321.3 570.8,316.3 567.5,309.7" fill="#ffaa00" /><polygon points="536.0,303.0 546.0,301.4 552.6,304.7 552.6,311.3 546.0,313.8 536.0,314.7" fill="#ffaa00" /><polygon points="605.7,309.7 615.6,307.2 628.9,307.2 638.9,309.7 638.9,318.0 628.9,321.3 614.0,321.3 605.7,318.0" fill="#ffaa00" /><polygon points="642.2,309.7 652.1,308.0 662.1,308.0 667.1,313.0 662.1,319.6 648.8,321.3 642.2,318.0" fill="#ffaa00" /><polygon points="667.7,312.8 675.9,312.0 679.2,316.1 672.6,317.8 666.0,316.9" fill="#ffaa00" /><polygon points="752.0,309.5 762.0,309.5 763.6,314.5 753.7,315.3" fill="#ffaa00" /><polygon points="262.5,305.5 269.2,305.5 277.5,309.7 282.5,314.7 279.1,318.0 275.8,316.3 269.2,311.3 264.2,308.9" fill="#ff5500" /><polygon points="290.8,313.0 299.0,309.7 307.3,308.0 312.3,306.4 310.7,313.0 304.0,315.5 295.7,316.3" fill="#ff5500" /><polygon points="333.9,301.4 338.0,301.4 339.7,306.4 337.2,308.9 334.2,307.2" fill="#ff5500" /><polygon points="439.1,303.0 445.7,301.4 452.4,304.7 454.0,313.0 449.0,318.0 440.8,317.2 437.4,311.3" fill="#ff5500" /><polygon points="530.4,313.0 536.0,311.3 536.0,317.2 531.2,316.3" fill="#ff5500" /><polygon points="391.0,301.4 394.3,301.4 393.5,305.5 391.0,305.5" fill="#ff5500" /><polygon points="575.8,303.0 584.1,301.4 589.1,306.4 589.1,314.7 582.5,318.0 577.5,314.7 575.8,309.7" fill="#ff5500" /><polygon points="536.0,309.7 541.0,309.7 541.0,315.5 536.0,316.0" fill="#ff5500" /><polygon points="615.6,310.5 625.6,309.7 633.9,313.0 632.2,319.6 622.3,320.5 617.3,318.0" fill="#ff5500" /><polygon points="652.1,311.3 660.4,311.3 662.1,316.3 655.5,318.0" fill="#ff5500" /><polygon points="670.1,313.6 675.1,313.6 675.1,316.4 670.1,316.4" fill="#ff5500" /><polygon points="265.0,307.2 270.0,307.2 275.8,311.3 278.3,315.5 275.8,316.7 270.0,312.2" fill="#ff0000" /><polygon points="295.7,313.0 302.4,310.5 309.0,308.9 307.3,313.8 300.7,315.5" fill="#ff0000" /><polygon points="334.7,303.0 337.5,303.0 338.5,306.7 335.6,307.7" fill="#ff0000" /><polygon points="440.8,311.7 447.4,311.0 452.0,313.0 451.5,318.0 443.2,318.3 439.9,315.5" fill="#ff0000" /><polygon points="531.2,313.0 536.0,311.7 536.0,316.7 532.0,316.0" fill="#ff0000" /><polygon points="577.5,305.5 584.1,303.9 587.4,309.7 585.8,315.5 580.0,316.3 577.5,311.3" fill="#ff0000" /><polygon points="536.0,310.5 539.7,310.5 539.7,315.0 536.0,315.5" fill="#ff0000" /><polygon points="619.0,312.2 625.6,311.3 630.6,314.7 628.9,318.8 621.4,319.3" fill="#ff0000" /><polygon points="653.8,312.2 658.8,312.2 659.6,315.5 655.5,316.3" fill="#ff0000" /><polygon points="670.6,314.1 674.6,314.1 674.6,316.1 670.6,316.1" fill="#ff0000" /><polyline points="90.1,314.7 110.9,313.0 119.2,310.5 142.4,309.7 152.4,314.7 159.0,319.6 172.3,319.6 178.9,315.5 193.8,317.2 202.1,315.5 218.7,313.8 236.0,311.3 246.0,309.7 260.9,313.0 265.9,318.0 275.8,322.1 290.8,323.0 305.7,319.6 314.0,318.0 325.6,318.0 333.9,323.0 338.9,323.8 352.1,319.6 368.7,318.0 378.7,319.6 386.0,318.0 402.6,318.0 410.9,317.2 427.5,319.6 452.4,322.1 472.3,320.5 485.6,319.3 492.2,319.6 493.8,312.3 502.1,312.0 512.1,312.3 514.6,318.0 527.0,319.6 536.0,317.2 552.6,318.0 569.2,321.3 585.8,322.1 595.7,318.0 605.7,323.0 622.3,323.0 635.6,321.3 652.1,322.1 666.0,319.4 682.5,321.1 699.1,317.8 712.3,314.5 715.6,312.8 732.2,314.5 743.8,319.4 752.0,321.1 758.7,321.1 767.3,320.2" fill="none" stroke="#00b4ff" stroke-width="2.4"/></g><polygon points="121.7,252.4 132.5,251.9 133.3,254.1 121.7,254.6" fill="#7700aa" /><polygon points="547.6,273.9 551.5,273.0 555.9,273.3 555.4,276.1 548.2,276.6" fill="#7700aa" /><polygon points="750.4,269.8 757.0,269.5 757.0,271.4 751.2,271.4" fill="#7700aa" /><polygon points="758.7,270.6 766.9,269.8 766.9,272.3 759.5,272.3" fill="#7700aa" /><polygon points="755.3,273.9 763.6,274.7 763.6,276.1 756.2,275.6" fill="#7700aa" /><polygon points="659.4,283.1 663.3,280.8 668.7,281.6 670.6,287.0 668.7,290.4 661.0,289.3" fill="#7700aa" /></g><g fill="#000"><rect x="89" y="128" width="680" height="2"/><rect x="89" y="453" width="680" height="2"/><rect x="89" y="128" width="2" height="327"/><rect x="767" y="128" width="2" height="327"/><rect x="116" y="130" width="1" height="5"/><rect x="116" y="448" width="1" height="5"/><rect x="141" y="130" width="2" height="10"/><rect x="141" y="443" width="2" height="10"/><rect x="169" y="130" width="1" height="5"/><rect x="169" y="448" width="1" height="5"/><rect x="194" y="130" width="2" height="10"/><rect x="194" y="443" width="2" height="10"/><rect x="222" y="130" width="1" height="5"/><rect x="222" y="448" width="1" height="5"/><rect x="248" y="130" width="2" height="10"/><rect x="248" y="443" width="2" height="10"/><rect x="275" y="130" width="1" height="5"/><rect x="275" y="448" width="1" height="5"/><rect x="301" y="130" width="2" height="10"/><rect x="301" y="443" width="2" height="10"/><rect x="328" y="130" width="1" height="5"/><rect x="328" y="448" width="1" height="5"/><rect x="354" y="130" width="2" height="10"/><rect x="354" y="443" width="2" height="10"/><rect x="382" y="130" width="1" height="5"/><rect x="382" y="448" width="1" height="5"/><rect x="407" y="130" width="2" height="10"/><rect x="407" y="443" width="2" height="10"/><rect x="435" y="130" width="1" height="5"/><rect x="435" y="448" width="1" height="5"/><rect x="460" y="130" width="2" height="10"/><rect x="460" y="443" width="2" height="10"/><rect x="488" y="130" width="1" height="5"/><rect x="488" y="448" width="1" height="5"/><rect x="514" y="130" width="2" height="10"/><rect x="514" y="443" width="2" height="10"/><rect x="541" y="130" width="1" height="5"/><rect x="541" y="448" width="1" height="5"/><rect x="567" y="130" width="2" height="10"/><rect x="567" y="443" width="2" height="10"/><rect x="594" y="130" width="1" height="5"/><rect x="594" y="448" width="1" height="5"/><rect x="620" y="130" width="2" height="10"/><rect x="620" y="443" width="2" height="10"/><rect x="648" y="130" width="1" height="5"/><rect x="648" y="448" width="1" height="5"/><rect x="673" y="130" width="2" height="10"/><rect x="673" y="443" width="2" height="10"/><rect x="701" y="130" width="1" height="5"/><rect x="701" y="448" width="1" height="5"/><rect x="726" y="130" width="2" height="10"/><rect x="726" y="443" width="2" height="10"/><rect x="754" y="130" width="1" height="5"/><rect x="754" y="448" width="1" height="5"/><rect x="91" y="433" width="5" height="1"/><rect x="763" y="433" width="4" height="1"/><rect x="91" y="410" width="10" height="2"/><rect x="757" y="410" width="10" height="2"/><rect x="91" y="389" width="5" height="1"/><rect x="763" y="389" width="4" height="1"/><rect x="91" y="366" width="10" height="2"/><rect x="757" y="366" width="10" height="2"/><rect x="91" y="346" width="5" height="1"/><rect x="763" y="346" width="4" height="1"/><rect x="91" y="323" width="10" height="2"/><rect x="757" y="323" width="10" height="2"/><rect x="91" y="302" width="5" height="1"/><rect x="763" y="302" width="4" height="1"/><rect x="91" y="279" width="10" height="2"/><rect x="757" y="279" width="10" height="2"/><rect x="91" y="259" width="5" height="1"/><rect x="763" y="259" width="4" height="1"/><rect x="91" y="236" width="10" height="2"/><rect x="757" y="236" width="10" height="2"/><rect x="91" y="215" width="5" height="1"/><rect x="763" y="215" width="4" height="1"/><rect x="91" y="192" width="10" height="2"/><rect x="757" y="192" width="10" height="2"/><rect x="91" y="172" width="5" height="1"/><rect x="763" y="172" width="4" height="1"/><rect x="91" y="149" width="10" height="2"/><rect x="757" y="149" width="10" height="2"/></g><g font-family='"Liberation Sans", "DejaVu Sans", sans-serif' fill="#000" shape-rendering="auto"><text text-anchor="middle" stroke="#fff" stroke-width="0.7"><tspan x="84.4 106.4 127.2 147.2 169.1" y="83.2" font-size="35">NH4SH</tspan><tspan x="191.0" y="83.7" font-size="38">–</tspan><tspan x="212.9 230.0 247.4 261.9 274.3 292.7 312.2 331.0 350.0 370.0 390.6 409.4 421.8 435.3 454.0 473.5 489.5 502.4 513.9 526.9 545.3 564.0 582.3 601.3 616.7 626.1 639.6 656.0 672.4 688.5 704.5" y="83.2" font-size="35">s Cloud &amp; Rain Mixing Ratio [kg</tspan><tspan x="725.3" y="85.2" font-size="39">⁄</tspan><tspan x="747.6 763.5 778.4" y="83.2" font-size="35">kg]</tspan></text><text x="74.8" y="417.8" font-size="20" text-anchor="middle" stroke="#000" stroke-width="0.45">4</text><text x="74.8" y="374.3" font-size="20" text-anchor="middle" stroke="#000" stroke-width="0.45">8</text><text x="62.7 74.8" y="330.8" font-size="20" text-anchor="middle" stroke="#000" stroke-width="0.45">12</text><text x="62.7 74.8" y="287.3" font-size="20" text-anchor="middle" stroke="#000" stroke-width="0.45">16</text><text x="62.7 74.8" y="243.8" font-size="20" text-anchor="middle" stroke="#000" stroke-width="0.45">20</text><text x="62.7 74.8" y="200.3" font-size="20" text-anchor="middle" stroke="#000" stroke-width="0.45">24</text><text x="62.7 74.8" y="156.8" font-size="20" text-anchor="middle" stroke="#000" stroke-width="0.45">28</text><text x="142.7" y="476.8" font-size="20" text-anchor="middle" stroke="#000" stroke-width="0.45">4</text><text x="195.9" y="476.8" font-size="20" text-anchor="middle" stroke="#000" stroke-width="0.45">8</text><text x="243.1 255.2" y="476.8" font-size="20" text-anchor="middle" stroke="#000" stroke-width="0.45">12</text><text x="296.2 308.4" y="476.8" font-size="20" text-anchor="middle" stroke="#000" stroke-width="0.45">16</text><text x="349.4 361.6" y="476.8" font-size="20" text-anchor="middle" stroke="#000" stroke-width="0.45">20</text><text x="402.7 414.8" y="476.8" font-size="20" text-anchor="middle" stroke="#000" stroke-width="0.45">24</text><text x="455.9 468.0" y="476.8" font-size="20" text-anchor="middle" stroke="#000" stroke-width="0.45">28</text><text x="509.1 521.1" y="476.8" font-size="20" text-anchor="middle" stroke="#000" stroke-width="0.45">32</text><text x="562.2 574.3" y="476.8" font-size="20" text-anchor="middle" stroke="#000" stroke-width="0.45">36</text><text x="615.5 627.5" y="476.8" font-size="20" text-anchor="middle" stroke="#000" stroke-width="0.45">40</text><text x="668.7 680.8" y="476.8" font-size="20" text-anchor="middle" stroke="#000" stroke-width="0.45">44</text><text x="721.9 734.0" y="476.8" font-size="20" text-anchor="middle" stroke="#000" stroke-width="0.45">48</text><text font-size="18.6" text-anchor="middle" stroke="#000" stroke-width="0.45"><tspan x="8.6 20.2 32.4 44.0" y="105.9">(×10</tspan><tspan x="54.5" y="99.3" font-size="14">4</tspan><tspan x="77.2 90.2" y="105.9">m)</tspan></text><text font-size="18.6" text-anchor="middle" stroke="#000" stroke-width="0.45"><tspan x="697.4 709.0 721.2 732.8" y="501.7">(×10</tspan><tspan x="743.3" y="495.1" font-size="14">4</tspan><tspan x="766.0 779.0" y="501.7">m)</tspan></text><text x="395.9 408.9 423.4 438 450.7 463.2" y="532.7" font-size="26" text-anchor="middle" stroke="#fff" stroke-width="0.4">Length</text><text transform="rotate(-90)" x="-320.9 -306.7 -294.5 -286 -271.4 -258.6" y="42.3" font-size="26" text-anchor="middle" stroke="#fff" stroke-width="0.4">Height</text><text x="711.4 719 728.9 739.8 750 760.3 771 782.9 792.6 804.2 815.9 827.5 839.1 850.1 857.5 866.5" y="550.7" font-size="20" text-anchor="middle" stroke="#000" stroke-width="0.45">TIME = 3900000.0</text></g><rect x="784.5" y="181.00" width="18.5" height="15.22" fill="#ff9a9a" stroke="#000" stroke-width="1.6" shape-rendering="auto"/><rect x="784.5" y="196.22" width="18.5" height="15.22" fill="#ff4040" stroke="#000" stroke-width="1.6" shape-rendering="auto"/><rect x="784.5" y="211.44" width="18.5" height="15.22" fill="#ff0000" stroke="#000" stroke-width="1.6" shape-rendering="auto"/><rect x="784.5" y="226.67" width="18.5" height="15.22" fill="#ff5500" stroke="#000" stroke-width="1.6" shape-rendering="auto"/><rect x="784.5" y="241.89" width="18.5" height="15.22" fill="#ffaa00" stroke="#000" stroke-width="1.6" shape-rendering="auto"/><rect x="784.5" y="257.11" width="18.5" height="15.22" fill="#ffee00" stroke="#000" stroke-width="1.6" shape-rendering="auto"/><rect x="784.5" y="272.33" width="18.5" height="15.22" fill="#c8ff00" stroke="#000" stroke-width="1.6" shape-rendering="auto"/><rect x="784.5" y="287.56" width="18.5" height="15.22" fill="#66ff00" stroke="#000" stroke-width="1.6" shape-rendering="auto"/><rect x="784.5" y="302.78" width="18.5" height="15.22" fill="#22ff00" stroke="#000" stroke-width="1.6" shape-rendering="auto"/><rect x="784.5" y="318.00" width="18.5" height="15.22" fill="#00f030" stroke="#000" stroke-width="1.6" shape-rendering="auto"/><rect x="784.5" y="333.22" width="18.5" height="15.22" fill="#00f080" stroke="#000" stroke-width="1.6" shape-rendering="auto"/><rect x="784.5" y="348.44" width="18.5" height="15.22" fill="#00f0d0" stroke="#000" stroke-width="1.6" shape-rendering="auto"/><rect x="784.5" y="363.67" width="18.5" height="15.22" fill="#00ddff" stroke="#000" stroke-width="1.6" shape-rendering="auto"/><rect x="784.5" y="378.89" width="18.5" height="15.22" fill="#0099ff" stroke="#000" stroke-width="1.6" shape-rendering="auto"/><rect x="784.5" y="394.11" width="18.5" height="15.22" fill="#0044ff" stroke="#000" stroke-width="1.6" shape-rendering="auto"/><rect x="784.5" y="409.33" width="18.5" height="15.22" fill="#0000f0" stroke="#000" stroke-width="1.6" shape-rendering="auto"/><rect x="784.5" y="424.56" width="18.5" height="15.22" fill="#0000aa" stroke="#000" stroke-width="1.6" shape-rendering="auto"/><rect x="784.5" y="439.78" width="18.5" height="15.22" fill="#7700aa" stroke="#000" stroke-width="1.6" shape-rendering="auto"/><g font-family='"Liberation Sans", "DejaVu Sans", sans-serif' fill="#000" font-size="19" text-anchor="middle" shape-rendering="auto" stroke="#000" stroke-width="0.45"><text x="817.7 825.4 833.5 844.2 854.9" y="202.6">0.005</text><text x="817.7 825.4 833.5 844.2 854.9" y="233.1">0.001</text><text x="817.7 825.4 833.5 844.2 854.9 865.6" y="263.5">0.0002</text><text x="817.5 827.6 839.5 851.3 862.6" y="294.0">5e−05</text><text x="817.5 827.6 839.5 851.3 862.6" y="324.4">1e−05</text><text x="817.5 827.6 839.5 851.3 862.6" y="354.8">2e−06</text><text x="817.5 827.6 839.5 851.3 862.6" y="385.3">5e−07</text><text x="817.5 827.6 839.5 851.3 862.6" y="415.7">1e−07</text><text x="817.5 827.6 839.5 851.3 862.6" y="446.2">2e−08</text></g></svg>
</body></html>
